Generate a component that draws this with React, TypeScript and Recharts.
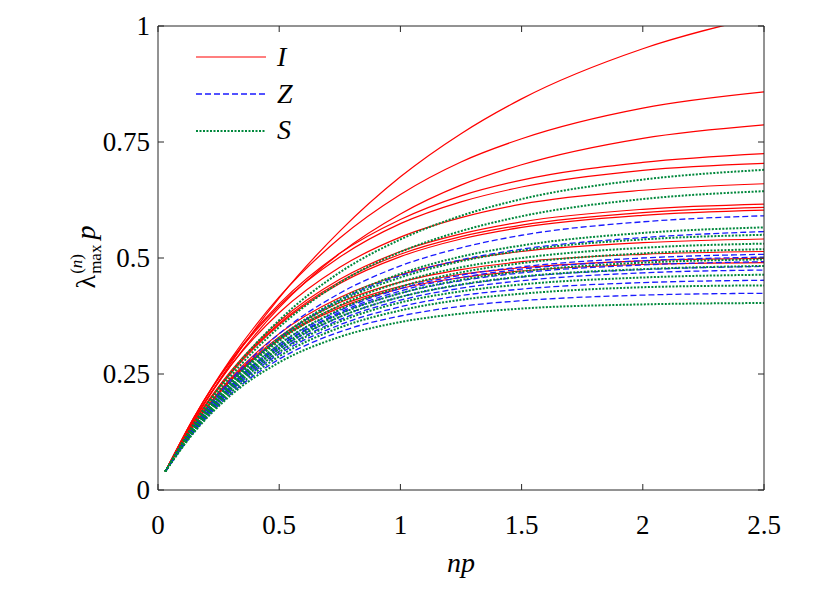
import React from "react";
import { Line, LineChart, XAxis, YAxis } from "recharts";

const NP = [0.03, 0.15, 0.3, 0.5, 0.75, 1, 1.25, 1.5, 2, 2.5];

const X_TICKS = [0, 0.5, 1, 1.5, 2, 2.5];
const Y_TICKS = [0, 0.25, 0.5, 0.75, 1];

// I (red, solid)
const I_CURVES = [
  [0.04, 0.151, 0.273, 0.414, 0.558, 0.675, 0.768, 0.843, 0.951, 1.022],
  [0.04, 0.158, 0.282, 0.416, 0.543, 0.637, 0.707, 0.757, 0.823, 0.858],
  [0.04, 0.152, 0.268, 0.393, 0.51, 0.595, 0.657, 0.701, 0.758, 0.787],
  [0.04, 0.158, 0.279, 0.401, 0.51, 0.583, 0.634, 0.668, 0.706, 0.725],
  [0.04, 0.158, 0.277, 0.397, 0.502, 0.574, 0.621, 0.653, 0.689, 0.704],
  [0.04, 0.154, 0.268, 0.382, 0.48, 0.545, 0.587, 0.616, 0.646, 0.66],
  [0.04, 0.148, 0.256, 0.363, 0.454, 0.514, 0.552, 0.578, 0.605, 0.616],
  [0.04, 0.147, 0.253, 0.359, 0.449, 0.508, 0.546, 0.571, 0.598, 0.609],
  [0.04, 0.146, 0.251, 0.356, 0.445, 0.503, 0.541, 0.566, 0.592, 0.603],
  [0.04, 0.142, 0.241, 0.337, 0.415, 0.464, 0.495, 0.514, 0.533, 0.541],
  [0.04, 0.141, 0.238, 0.33, 0.404, 0.448, 0.475, 0.492, 0.508, 0.514],
  [0.04, 0.141, 0.237, 0.326, 0.397, 0.439, 0.465, 0.479, 0.494, 0.499],
  [0.04, 0.141, 0.236, 0.324, 0.393, 0.434, 0.458, 0.472, 0.486, 0.49],
];

// Z (blue, dashed)
const Z_CURVES = [
  [0.04, 0.138, 0.237, 0.337, 0.424, 0.483, 0.522, 0.549, 0.578, 0.591],
  [0.04, 0.137, 0.232, 0.327, 0.409, 0.462, 0.496, 0.519, 0.544, 0.557],
  [0.04, 0.134, 0.225, 0.314, 0.387, 0.434, 0.463, 0.481, 0.5, 0.508],
  [0.04, 0.132, 0.223, 0.31, 0.383, 0.429, 0.458, 0.476, 0.494, 0.502],
  [0.04, 0.133, 0.223, 0.309, 0.38, 0.424, 0.451, 0.468, 0.485, 0.492],
  [0.04, 0.131, 0.219, 0.304, 0.373, 0.416, 0.442, 0.459, 0.475, 0.482],
  [0.04, 0.129, 0.216, 0.299, 0.367, 0.409, 0.435, 0.451, 0.468, 0.474],
  [0.04, 0.128, 0.213, 0.293, 0.356, 0.395, 0.419, 0.433, 0.447, 0.452],
  [0.04, 0.126, 0.207, 0.282, 0.341, 0.375, 0.396, 0.408, 0.42, 0.424],
];

// S (green, dotted)
const S_CURVES = [
  [0.04, 0.145, 0.253, 0.366, 0.469, 0.54, 0.591, 0.627, 0.669, 0.69],
  [0.04, 0.141, 0.245, 0.351, 0.447, 0.513, 0.558, 0.59, 0.627, 0.644],
  [0.04, 0.136, 0.232, 0.328, 0.411, 0.466, 0.503, 0.527, 0.554, 0.566],
  [0.04, 0.136, 0.231, 0.325, 0.406, 0.458, 0.493, 0.516, 0.54, 0.55],
  [0.04, 0.135, 0.229, 0.321, 0.398, 0.448, 0.48, 0.5, 0.522, 0.531],
  [0.04, 0.133, 0.224, 0.314, 0.389, 0.438, 0.469, 0.489, 0.51, 0.519],
  [0.04, 0.131, 0.221, 0.307, 0.379, 0.424, 0.453, 0.471, 0.49, 0.497],
  [0.04, 0.131, 0.22, 0.304, 0.373, 0.416, 0.443, 0.46, 0.476, 0.483],
  [0.04, 0.13, 0.216, 0.297, 0.363, 0.404, 0.428, 0.443, 0.458, 0.464],
  [0.04, 0.127, 0.21, 0.288, 0.35, 0.387, 0.41, 0.423, 0.437, 0.441],
  [0.04, 0.125, 0.204, 0.275, 0.33, 0.362, 0.38, 0.391, 0.4, 0.403],
];

const RED = "#ff0000";
const BLUE = "#1a1aff";
const GREEN = "#00883c";
const AXIS = "#262626";
const FONT = "'Liberation Serif', 'Times New Roman', serif";
const TICK_LEN = 6;
const X_GAP = 25;
const Y_GAP = 20;

const data = NP.map((np, i) => {
  const row: Record<string, number> = { np };
  I_CURVES.forEach((c, j) => (row[`i${j}`] = c[i]));
  Z_CURVES.forEach((c, j) => (row[`z${j}`] = c[i]));
  S_CURVES.forEach((c, j) => (row[`s${j}`] = c[i]));
  return row;
});

// inward tick marks + labels, drawn relative to where recharts places each tick
const BottomTick = (props: any) => {
  const { x, y, payload } = props;
  const axisY = y - X_GAP;
  return (
    <g>
      <line x1={x} x2={x} y1={axisY} y2={axisY - TICK_LEN} stroke={AXIS} />
      <text x={x} y={y} dy="0.71em" textAnchor="middle" fontFamily={FONT} fontSize={27} fill="#000">
        {payload.value}
      </text>
    </g>
  );
};

const LeftTick = (props: any) => {
  const { x, y, payload } = props;
  const axisX = x + Y_GAP;
  return (
    <g>
      <line x1={axisX} x2={axisX + TICK_LEN} y1={y} y2={y} stroke={AXIS} />
      <text x={axisX - 8} y={y} dy="0.34em" textAnchor="end" fontFamily={FONT} fontSize={27} fill="#000">
        {payload.value}
      </text>
    </g>
  );
};

const TopTick = (props: any) => {
  const { x, y } = props;
  return <line x1={x} x2={x} y1={y} y2={y + TICK_LEN} stroke={AXIS} />;
};

const RightTick = (props: any) => {
  const { x, y } = props;
  return <line x1={x} x2={x - TICK_LEN} y1={y} y2={y} stroke={AXIS} />;
};

export default function App() {
  return (
    <div style={{ position: "absolute", left: 0, top: 0, width: 831, height: 591, background: "#fff" }}>
      <LineChart width={831} height={591} data={data} margin={{ top: 25, right: 66, bottom: 61, left: 98 }}>
        <XAxis
          dataKey="np"
          type="number"
          domain={[0, 2.5]}
          ticks={X_TICKS}
          allowDataOverflow
          height={40}
          tickSize={0}
          tickMargin={X_GAP}
          tick={<BottomTick />}
          tickLine={false}
          axisLine={{ stroke: AXIS }}
        />
        <XAxis
          xAxisId="top"
          dataKey="np"
          orientation="top"
          type="number"
          domain={[0, 2.5]}
          ticks={X_TICKS}
          allowDataOverflow
          height={1}
          tickSize={0}
          tickMargin={0}
          tick={<TopTick />}
          tickLine={false}
          axisLine={{ stroke: AXIS }}
        />
        <YAxis
          type="number"
          domain={[0, 1]}
          ticks={Y_TICKS}
          allowDataOverflow
          width={60}
          tickSize={0}
          tickMargin={Y_GAP}
          tick={<LeftTick />}
          tickLine={false}
          axisLine={{ stroke: AXIS }}
        />
        <YAxis
          yAxisId="right"
          orientation="right"
          type="number"
          domain={[0, 1]}
          ticks={Y_TICKS}
          allowDataOverflow
          width={1}
          tickSize={0}
          tickMargin={0}
          tick={<RightTick />}
          tickLine={false}
          axisLine={{ stroke: AXIS }}
        />
        {/* invisible series so the frame axes (top/right) get drawn */}
        <Line
          xAxisId="top"
          yAxisId="right"
          dataKey="i0"
          stroke="none"
          dot={false}
          activeDot={false}
          isAnimationActive={false}
        />
        {I_CURVES.map((_, j) => (
          <Line
            key={`i${j}`}
            dataKey={`i${j}`}
            type="monotone"
            stroke={RED}
            strokeWidth={1.2}
            dot={false}
            activeDot={false}
            isAnimationActive={false}
          />
        ))}
        {Z_CURVES.map((_, j) => (
          <Line
            key={`z${j}`}
            dataKey={`z${j}`}
            type="monotone"
            stroke={BLUE}
            strokeWidth={1.3}
            strokeDasharray="6 3"
            dot={false}
            activeDot={false}
            isAnimationActive={false}
          />
        ))}
        {S_CURVES.map((_, j) => (
          <Line
            key={`s${j}`}
            dataKey={`s${j}`}
            type="monotone"
            stroke={GREEN}
            strokeWidth={2}
            strokeDasharray="2 1.5"
            dot={false}
            activeDot={false}
            isAnimationActive={false}
          />
        ))}
      </LineChart>

      {/* legend */}
      <svg width={140} height={110} style={{ position: "absolute", left: 190, top: 35 }}>
        <line x1={6} x2={76} y1={22} y2={22} stroke={RED} strokeWidth={1.2} />
        <line x1={6} x2={76} y1={59} y2={59} stroke={BLUE} strokeWidth={1.3} strokeDasharray="6 3" />
        <line x1={6} x2={76} y1={96} y2={96} stroke={GREEN} strokeWidth={2} strokeDasharray="2 1.5" />
        <text x={87} y={31} fontFamily={FONT} fontSize={28} fontStyle="italic">I</text>
        <text x={87} y={68} fontFamily={FONT} fontSize={28} fontStyle="italic">Z</text>
        <text x={87} y={104} fontFamily={FONT} fontSize={28} fontStyle="italic">S</text>
      </svg>

      {/* y label */}
      <div
        style={{
          position: "absolute",
          left: 86,
          top: 257,
          transform: "translate(-50%, -50%) rotate(-90deg)",
          fontFamily: FONT,
          fontSize: 28,
          whiteSpace: "nowrap",
          display: "flex",
          alignItems: "center",
          lineHeight: 1,
        }}
      >
        <span>λ</span>
        <span style={{ display: "inline-flex", flexDirection: "column", fontSize: 17, marginLeft: 1, lineHeight: 1.05 }}>
          <span>
            (<i>n</i>)
          </span>
          <span style={{ marginTop: 1 }}>max</span>
        </span>
        <i style={{ marginLeft: 5 }}>p</i>
      </div>

      {/* x label */}
      <div
        style={{
          position: "absolute",
          left: 461,
          top: 563,
          transform: "translate(-50%, -50%)",
          fontFamily: FONT,
          fontSize: 28,
          fontStyle: "italic",
          lineHeight: 1,
        }}
      >
        np
      </div>
    </div>
  );
}
